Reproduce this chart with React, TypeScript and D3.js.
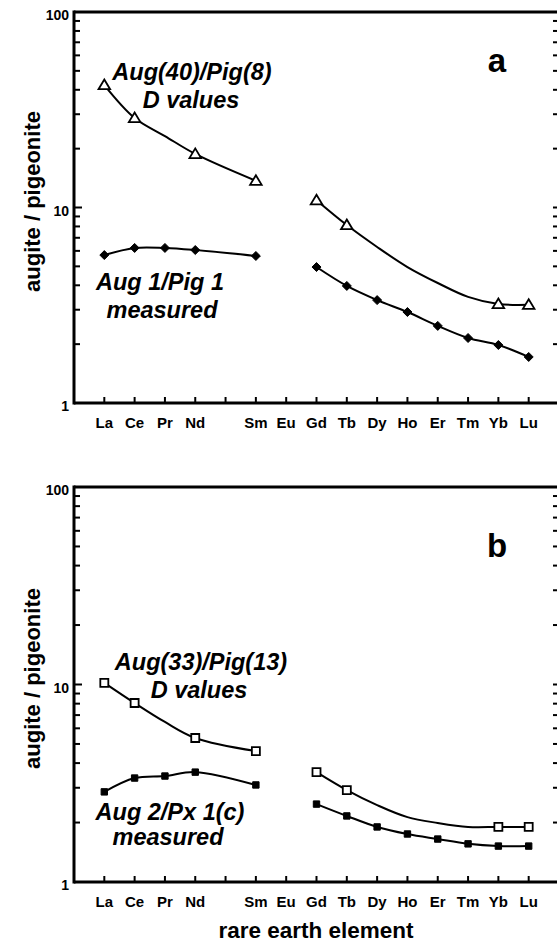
import React from "react";
import * as d3 from "d3";

// rare earth elements along the x axis (Pm has a tick but no label)
const elements = ["La", "Ce", "Pr", "Nd", "Pm", "Sm", "Eu", "Gd", "Tb", "Dy", "Ho", "Er", "Tm", "Yb", "Lu"];
const elementLabels = ["La", "Ce", "Pr", "Nd", "", "Sm", "Eu", "Gd", "Tb", "Dy", "Ho", "Er", "Tm", "Yb", "Lu"];
const yTickLabels = [1, 10, 100];

// panel a
const dValuesA = [42.3, 28.7, 23.2, 18.8, null, 13.7, null, 10.9, 8.13, 6.28, 4.96, 4.11, 3.49, 3.21, 3.18];
const measuredA = [5.71, 6.21, 6.21, 6.06, null, 5.65, null, 4.96, 3.97, 3.36, 2.92, 2.48, 2.15, 1.98, 1.72];
// panel b
const dValuesB = [10.2, 8.06, 6.46, 5.36, null, 4.6, null, 3.6, 2.92, 2.45, 2.13, 1.99, 1.9, 1.9, 1.9];
const measuredB = [2.86, 3.36, 3.44, 3.6, null, 3.1, null, 2.48, 2.16, 1.9, 1.75, 1.65, 1.56, 1.52, 1.52];

// which points carry a symbol on the D value curves
const dMarked = ["La", "Ce", "Nd", "Sm", "Gd", "Tb", "Yb", "Lu"];

const FONT = "'Liberation Sans', Arial, Helvetica, sans-serif";

const x = d3.scaleLinear().domain([-1, 15]).range([74, 559]);

function markerPath(kind, r) {
  if (kind === "triangle") return `M0,${-r}L${r * 1.05},${r * 0.75}L${-r * 1.05},${r * 0.75}Z`;
  if (kind === "diamond") return `M0,${-r}L${r},0L0,${r}L${-r},0Z`;
  return `M${-r},${-r}L${r},${-r}L${r},${r}L${-r},${r}Z`;
}

function segments(values) {
  // split the curve at Eu, skip Pm
  const pts = values.map((v, i) => ({ el: elements[i], i, v })).filter(d => d.v != null);
  const eu = elements.indexOf("Eu");
  return [pts.filter(d => d.i < eu), pts.filter(d => d.i > eu)];
}

function Panel({ top, bottom, letter, letterY, series, notes }) {
  const y = d3.scaleLog().domain([1, 100]).range([bottom, top]);
  const line = d3.line().x(d => x(d.i)).y(d => y(d.v)).curve(d3.curveCatmullRom);
  const minor = [];
  for (let dec = 1; dec < 100; dec *= 10) for (let k = 2; k <= 9; k++) minor.push(dec * k);
  const left = x(-1);
  const right = x(15) + 3; // right axis sits just off the page, only its ticks show

  return (
    <g>
      {/* frame */}
      <line x1={left} x2={right} y1={top} y2={top} stroke="#000" strokeWidth={3} />
      <line x1={left} x2={right} y1={bottom} y2={bottom} stroke="#000" strokeWidth={3} />
      <line x1={left} x2={left} y1={top - 1.5} y2={bottom + 1.5} stroke="#000" strokeWidth={3} />

      {/* y ticks, left and right */}
      {yTickLabels.map(v => (
        <g key={"M" + v}>
          <line x1={left} x2={left + 8} y1={y(v)} y2={y(v)} stroke="#000" strokeWidth={2} />
          <line x1={right} x2={right - 9} y1={y(v)} y2={y(v)} stroke="#000" strokeWidth={2} />
          <text x={69} y={y(v) + 8} textAnchor="end" fontFamily={FONT} fontWeight="bold" fontSize={14}>{v}</text>
        </g>
      ))}
      {minor.map(v => (
        <g key={"m" + v}>
          <line x1={left} x2={left + 6} y1={y(v)} y2={y(v)} stroke="#000" strokeWidth={2} />
          <line x1={right} x2={right - 9} y1={y(v)} y2={y(v)} stroke="#000" strokeWidth={2} />
        </g>
      ))}

      {/* x ticks */}
      {elements.map((el, i) => (
        <g key={el}>
          <line x1={x(i)} x2={x(i)} y1={bottom} y2={bottom - 6} stroke="#000" strokeWidth={2} />
          <text x={x(i)} y={bottom + 25} textAnchor="middle" fontFamily={FONT} fontWeight="bold" fontSize={15}>
            {elementLabels[i]}
          </text>
        </g>
      ))}

      {/* series */}
      {series.map((s, si) => (
        <g key={si}>
          {segments(s.values).map((seg, k) => (
            <path key={k} d={line(seg)} fill="none" stroke="#000" strokeWidth={2} />
          ))}
          {segments(s.values).flat().filter(d => !s.marked || s.marked.includes(d.el)).map(d => (
            <path
              key={d.el}
              transform={`translate(${x(d.i)},${y(d.v)})`}
              d={markerPath(s.shape, s.r)}
              fill={s.filled ? "#000" : "#fff"}
              stroke="#000"
              strokeWidth={s.filled ? 1 : 1.8}
            />
          ))}
        </g>
      ))}

      {/* annotations */}
      {notes.map((n, k) => (
        <text key={k} x={n.x} y={n.y} textAnchor="middle" fontFamily={FONT} fontWeight="bold" fontStyle="italic" fontSize={23.5}>
          {n.text}
        </text>
      ))}
      <text x={497} y={letterY} textAnchor="middle" fontFamily={FONT} fontWeight="bold" fontSize={33}>
        {letter}
      </text>

      <text
        transform={`translate(40,${(top + bottom) / 2 - 6}) rotate(-90)`}
        textAnchor="middle"
        fontFamily={FONT}
        fontWeight="bold"
        fontSize={22}
      >
        augite / pigeonite
      </text>
    </g>
  );
}

export default function App() {
  return (
    <svg width={557} height={942} style={{ position: "absolute", left: 0, top: 0, background: "#fff" }}>
      <rect width={557} height={942} fill="#fff" />
      <Panel
        top={12}
        bottom={403}
        letter="a"
        letterY={72}
        series={[
          { values: dValuesA, marked: dMarked, shape: "triangle", r: 5.5, filled: false },
          { values: measuredA, marked: null, shape: "diamond", r: 4.5, filled: true },
        ]}
        notes={[
          { text: "Aug(40)/Pig(8)", x: 192, y: 80 },
          { text: "D values", x: 191, y: 108 },
          { text: "Aug 1/Pig 1", x: 160, y: 290 },
          { text: "measured", x: 162, y: 318 },
        ]}
      />
      <Panel
        top={487}
        bottom={882}
        letter="b"
        letterY={557}
        series={[
          { values: dValuesB, marked: dMarked, shape: "square", r: 4, filled: false },
          { values: measuredB, marked: null, shape: "square", r: 3.2, filled: true },
        ]}
        notes={[
          { text: "Aug(33)/Pig(13)", x: 201, y: 670 },
          { text: "D values", x: 199, y: 698 },
          { text: "Aug 2/Px 1(c)", x: 170, y: 820 },
          { text: "measured", x: 168, y: 845 },
        ]}
      />
      <text x={316} y={938} textAnchor="middle" fontFamily={FONT} fontWeight="bold" fontSize={22.5}>
        rare earth element
      </text>
    </svg>
  );
}
